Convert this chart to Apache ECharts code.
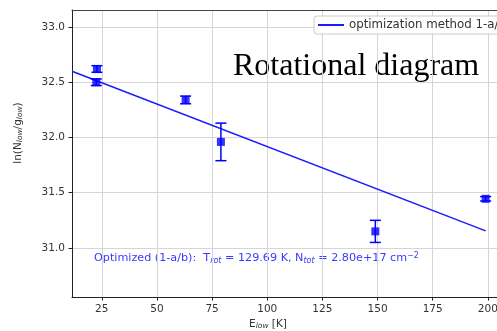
<!DOCTYPE html>
<html>
<head>
<meta charset="utf-8">
<script src="https://cdn.jsdelivr.net/npm/echarts@6/dist/echarts.min.js"></script>
<style>
  html, body { margin: 0; padding: 0; background: #fff; overflow: hidden; }
  #chart { width: 506px; height: 331px; }
</style>
</head>
<body>
<div id="chart"></div>
<script>
// measured points (E_low in K, ln(N/g), 1-sigma)
const eLow = [22.5, 22.8, 63, 79, 149, 199];
const lnNg = [32.50, 32.62, 32.34, 31.96, 31.15, 31.445];
const lnErr = [0.03, 0.03, 0.035, 0.17, 0.10, 0.02];

// fitted line endpoints
const fitX = [11.5, 199];
const fitY = [32.60, 31.155];

const xTicks = [25, 50, 75, 100, 125, 150, 175, 200];
const yTicks = [31.0, 31.5, 32.0, 32.5, 33.0];

const BLUE = '#0000ff';
const FONT = 'DejaVu Sans';

const chart = echarts.init(document.getElementById('chart'), null, { renderer: 'canvas' });

const points = eLow.map((x, i) => [x, lnNg[i], lnErr[i]]);

chart.setOption({
  animation: false,
  backgroundColor: '#fff',
  grid: { left: 72, top: 10, bottom: 34, right: 0.5 },
  legend: {
    left: 314, top: 16,
    padding: [3, 8, 3, 3],
    itemWidth: 26, itemHeight: 2, itemGap: 6,
    backgroundColor: 'rgba(255,255,255,0.85)',
    borderColor: '#cccccc', borderWidth: 1, borderRadius: 3,
    textStyle: { fontFamily: FONT, fontSize: 11.8, color: '#333' },
    data: ['optimization method 1-a/b']
  },
  xAxis: [
    {
      type: 'value', min: 11.5, max: 208,
      axisLine: { lineStyle: { color: '#222' } },
      axisTick: { length: 3.5, lineStyle: { color: '#222' }, customValues: xTicks },
      axisLabel: {
        customValues: xTicks, margin: 7,
        fontFamily: FONT, fontSize: 10.5, color: '#333'
      },
      splitLine: { show: true, lineStyle: { color: '#d6d6d6', width: 1 } }
    },
    {
      // top spine only
      type: 'value', position: 'top', min: 11.5, max: 208,
      axisLine: { show: true, lineStyle: { color: '#444' } },
      axisTick: { show: false }, axisLabel: { show: false }, splitLine: { show: false }
    }
  ],
  yAxis: {
    type: 'value', min: 30.556, max: 33.154,
    axisLine: { show: true, lineStyle: { color: '#222' } },
    axisTick: { show: true, length: 3.5, lineStyle: { color: '#222' }, customValues: yTicks },
    axisLabel: {
      customValues: yTicks, margin: 7,
      fontFamily: FONT, fontSize: 10.5, color: '#333',
      formatter: v => v.toFixed(1)
    },
    splitLine: { show: true, lineStyle: { color: '#d6d6d6', width: 1 } }
  },
  series: [
    {
      name: 'optimization method 1-a/b',
      type: 'line',
      data: fitX.map((x, i) => [x, fitY[i]]),
      symbol: 'none',
      lineStyle: { color: '#1a1aff', width: 1.5 },
      itemStyle: { color: '#1a1aff' },
      z: 3
    },
    {
      type: 'custom',
      data: points,
      renderItem: (params, api) => {
        const x = api.value(0), y = api.value(1), e = api.value(2);
        const top = api.coord([x, y + e]);
        const bot = api.coord([x, y - e]);
        const cap = 5.5;
        const style = { stroke: BLUE, lineWidth: 1.5 };
        return {
          type: 'group',
          children: [
            { type: 'line', shape: { x1: top[0], y1: top[1], x2: bot[0], y2: bot[1] }, style },
            { type: 'line', shape: { x1: top[0] - cap, y1: top[1], x2: top[0] + cap, y2: top[1] }, style },
            { type: 'line', shape: { x1: bot[0] - cap, y1: bot[1], x2: bot[0] + cap, y2: bot[1] }, style }
          ]
        };
      },
      z: 4
    },
    {
      type: 'scatter',
      data: points,
      symbol: 'rect',
      symbolSize: 8,
      itemStyle: { color: BLUE },
      z: 5
    }
  ],
  graphic: [
    {
      type: 'text', left: 233, top: 51,
      style: {
        text: 'Rotational diagram',
        font: '32px "Liberation Serif"', fill: '#000'
      }
    },
    {
      type: 'text', left: 94, top: 252,
      style: {
        text: 'Optimized (1-a/b):  T{s|rot} = 129.69 K, N{s|tot} = 2.80e+17 cm{p|−2}',
        fontFamily: FONT, fontSize: 11.2, fill: '#3a3aff',
        rich: {
          s: { fontFamily: FONT, fontSize: 8, fontStyle: 'italic', fill: '#3a3aff', padding: [5, 0, 0, 0] },
          p: { fontFamily: FONT, fontSize: 8, fill: '#3a3aff', padding: [0, 0, 5, 0] }
        }
      }
    },
    {
      type: 'text', x: 18, y: 133, rotation: Math.PI / 2,
      style: {
        text: 'ln(N{s|low}/g{s|low})',
        fontFamily: FONT, fontSize: 10.5, fill: '#333',
        align: 'center', verticalAlign: 'middle',
        rich: {
          s: { fontFamily: FONT, fontSize: 7.5, fontStyle: 'italic', fill: '#333', padding: [5, 0, 0, 0] }
        }
      }
    },
    {
      type: 'text', x: 268, y: 324,
      style: {
        text: 'E{s|low} [K]',
        fontFamily: FONT, fontSize: 10.5, fill: '#333',
        align: 'center', verticalAlign: 'middle',
        rich: {
          s: { fontFamily: FONT, fontSize: 7.5, fontStyle: 'italic', fill: '#333', padding: [5, 0, 0, 0] }
        }
      }
    }
  ]
});
</script>
</body>
</html>
